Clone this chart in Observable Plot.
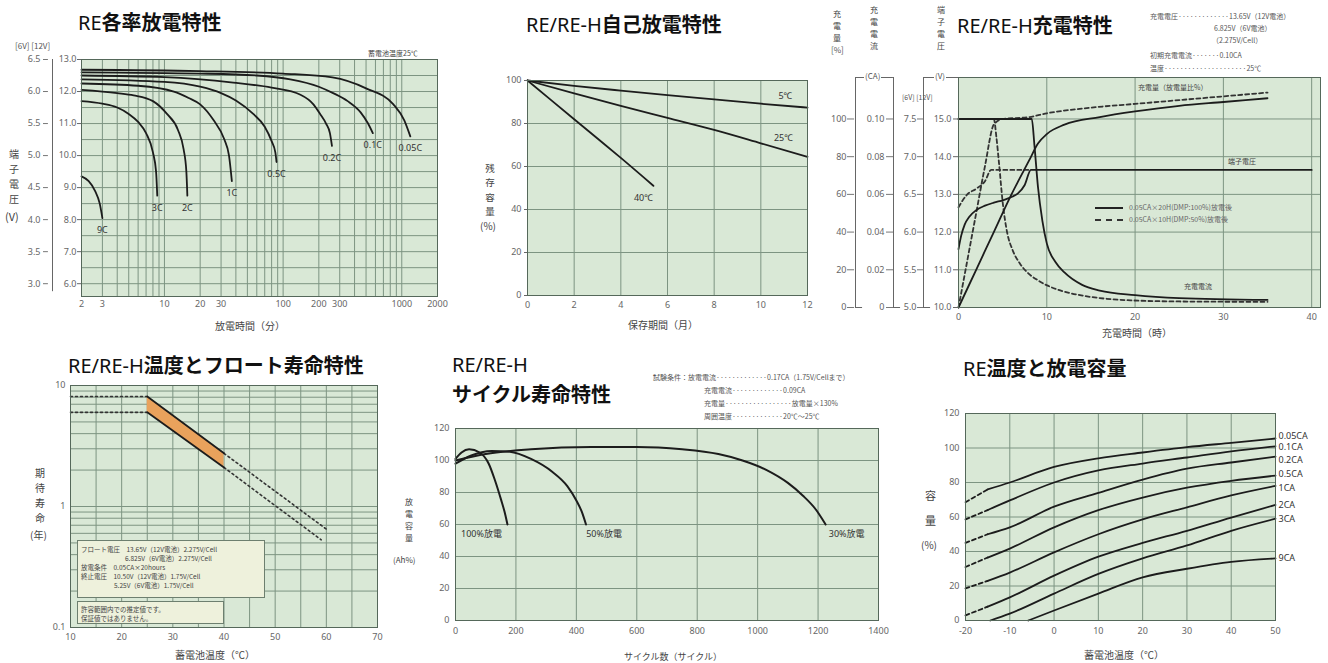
<!DOCTYPE html>
<html><head><meta charset="utf-8">
<script src="https://cdn.jsdelivr.net/npm/d3@7"></script>
<script src="https://cdn.jsdelivr.net/npm/@observablehq/plot@0.6"></script>
<style>
body{margin:0;background:#fff;width:1328px;height:663px;position:relative;overflow:hidden;font-family:"Noto Sans CJK JP","Noto Sans",sans-serif;}
.p{position:absolute;}
.p svg{max-width:none;display:block;}
.t{position:absolute;font-size:20px;color:#111;white-space:nowrap;line-height:1;font-family:"Noto Sans","Noto Sans CJK JP",sans-serif;}
.t b{font-weight:700;font-family:"Noto Sans CJK JP",sans-serif;}
.s{position:absolute;color:#555;white-space:nowrap;line-height:1;}
.vs{position:absolute;color:#444;text-align:center;line-height:1.5;}
.box{position:absolute;background:#eef1dc;border:1px solid #6d7f6f;box-sizing:border-box;}
</style>
</head><body>
<script>
// ===== Panel 1: RE各率放電特性 =====
const p1Rates = ["0.05C","0.1C","0.2C","0.5C","1C","2C","3C","9C"];
const p1Minutes = [
  [2, 20, 100, 260, 500, 850, 1050, 1180],
  [2, 20, 60, 115, 200, 264, 350, 450, 520, 570],
  [2, 10, 38, 80, 140, 180, 205, 230, 248, 258],
  [2, 10, 20, 30, 40, 56, 70, 80, 86, 88],
  [2, 6, 12, 16, 20, 26, 32, 35, 37],
  [2, 4, 5.5, 8, 10.5, 13, 14.5, 15.3, 15.6],
  [2, 3, 4, 5, 6, 7, 8, 8.5, 8.7],
  [2, 2.3, 2.6, 2.85, 3.0]
];
const p1Volts = [
  [12.68, 12.64, 12.56, 12.44, 12.1, 11.6, 11.1, 10.6],
  [12.6, 12.56, 12.5, 12.38, 12.15, 11.95, 11.7, 11.35, 11.0, 10.7],
  [12.5, 12.45, 12.28, 12.12, 11.9, 11.6, 11.3, 11.0, 10.7, 10.3],
  [12.38, 12.3, 12.15, 11.95, 11.72, 11.3, 10.9, 10.45, 10.1, 9.8],
  [12.25, 12.18, 12.0, 11.8, 11.6, 11.1, 10.5, 10.0, 9.2],
  [12.05, 11.95, 11.88, 11.7, 11.3, 10.8, 10.2, 9.5, 8.75],
  [11.7, 11.62, 11.5, 11.3, 11.05, 10.7, 10.1, 9.5, 8.75],
  [9.35, 9.2, 8.9, 8.5, 8.05]
];
const p1TicksX = [2, 3, 4, 5, 7, 10, 20, 30, 60, 100, 200, 300, 600, 1000, 2000];
const p1GridX = [3,4,5,6,7,8,9,10,20,30,40,50,60,70,80,90,100,200,300,400,500,600,700,800,900,1000];
const p1Ticks12 = [13, 12, 11, 10, 9, 8, 7, 6];
const p1Ticks6 = [6.5, 6.0, 5.5, 5.0, 4.5, 4.0, 3.5, 3.0];
const p1GridY = [6, 6.5, 7, 7.5, 8, 8.5, 9, 9.5, 10, 10.5, 11, 11.5, 12, 12.5];

// ===== Panel 2: 自己放電特性 =====
const p2Months = [0, 2, 4, 6, 8, 10, 12];
const p2Rem5 = [100, 97.5, 95.3, 93.2, 91.2, 89.2, 87.4];
const p2Rem25 = [100, 94, 88.2, 82.6, 77, 70.8, 64.5];
const p2Months40 = [0, 1, 2, 3, 4, 5.4];
const p2Rem40 = [100, 91, 82, 73, 64, 51];
const p2TicksX = [0, 2, 4, 6, 8, 10, 12];
const p2TicksY = [0, 20, 40, 60, 80, 100];

// ===== Panel 3: 充電特性 =====
const p3VoltT100 = [0, 0.3, 0.7, 1.2, 2, 3, 4, 5.1, 6, 6.7, 7.5, 8.2, 40];
const p3Volt100 = [11.55, 11.9, 12.2, 12.4, 12.58, 12.7, 12.78, 12.85, 12.93, 13.02, 13.25, 13.65, 13.65];
const p3CurT100 = [0, 8.3, 8.6, 9, 9.5, 10, 11, 12, 14, 16, 20, 25, 35];
const p3Cur100 = [0.1, 0.1, 0.086, 0.064, 0.046, 0.034, 0.024, 0.0186, 0.012, 0.009, 0.0066, 0.005, 0.004];
const p3ChgT100 = [0, 2, 4, 6, 8, 9, 10, 12, 16, 20, 25, 30, 35];
const p3Chg100 = [0, 20, 40, 60, 78, 87, 92, 97, 101, 104, 107, 109, 111];
const p3VoltT50 = [0, 0.5, 1, 2, 3, 3.7, 8.2];
const p3Volt50 = [12.66, 12.85, 13.0, 13.15, 13.35, 13.65, 13.65];
const p3CurT50 = [0, 4.0, 4.3, 4.6, 5.0, 5.5, 6.1, 7, 7.8, 9, 10.1, 12, 13.9, 16, 19.5, 25, 35];
const p3Cur50 = [0.1, 0.1, 0.09, 0.076, 0.056, 0.04, 0.0308, 0.023, 0.0186, 0.0144, 0.0116, 0.0084, 0.0064, 0.005, 0.0038, 0.0032, 0.003];
const p3ChgT50 = [0, 1, 2, 3, 4, 5, 8, 10, 15, 20, 25, 30, 35];
const p3Chg50 = [0, 25, 50, 75, 97, 100, 101, 103, 106, 108, 110, 112, 114];
const p3TicksX = [0, 10, 20, 30, 40];
const p3Ticks12 = [10, 11, 12, 13, 14, 15];
const p3Ticks6 = [5.0, 5.5, 6.0, 6.5, 7.0, 7.5];
const p3TicksCA = [0, 0.02, 0.04, 0.06, 0.08, 0.10];
const p3TicksPct = [0, 20, 40, 60, 80, 100];

// ===== Panel 4: 温度とフロート寿命特性 =====
const p4TempUpper = [10, 25, 40, 60];
const p4LifeUpper = [8.1, 8.1, 2.75, 0.65];
const p4TempLower = [10, 25, 40, 59];
const p4LifeLower = [6.0, 6.0, 2.1, 0.53];
const p4TicksX = [10, 20, 30, 40, 50, 60, 70];
const p4TicksY = [0.1, 1, 10];
const p4GridX = [15, 20, 25, 30, 35, 40, 45, 50, 55, 60, 65];
const p4GridY = [0.2,0.3,0.4,0.5,0.6,0.7,0.8,0.9,1,2,3,4,5,6,7,8,9];

// ===== Panel 5: サイクル寿命特性 =====
const p5Labels = ["100%放電", "50%放電", "30%放電"];
const p5Cycles = [
  [0, 20, 45, 80, 110, 130, 150, 165, 172],
  [0, 50, 120, 180, 250, 320, 370, 400, 420, 432],
  [0, 100, 250, 450, 600, 750, 870, 950, 1030, 1100, 1150, 1190, 1225]
];
const p5Capacity = [
  [101, 105, 107, 105, 98, 88, 76, 66, 60],
  [98, 103, 106, 105.5, 101, 93, 84, 75, 67, 60],
  [100, 104, 107, 108.5, 108.5, 107, 104, 100, 94, 86, 78, 70, 60]
];
const p5TicksX = [0, 200, 400, 600, 800, 1000, 1200, 1400];
const p5TicksY = [0, 20, 40, 60, 80, 100, 120];

// ===== Panel 6: 温度と放電容量 =====
const p6Rates = ["0.05CA","0.1CA","0.2CA","0.5CA","1CA","2CA","3CA","9CA"];
const p6Temps = [
  [-20, -15, -10, 0, 10, 20, 30, 40, 50],
  [-20, -15, -10, 0, 10, 20, 30, 40, 50],
  [-20, -15, -10, 0, 10, 20, 30, 40, 50],
  [-20, -15, -10, 0, 10, 20, 30, 40, 50],
  [-20, -15, -10, 0, 10, 20, 30, 40, 50],
  [-20, -15, -10, 0, 10, 20, 30, 40, 50],
  [-14.4, -10, 0, 10, 20, 30, 40, 50],
  [-5.8, 0, 10, 20, 30, 40, 50]
];
const p6Capacity = [
  [68.6, 76, 80, 89, 94, 97.4, 100.5, 103, 105.5],
  [58.6, 64, 69.6, 80, 87, 91, 94.5, 98, 101],
  [45, 50, 54, 66, 74, 81.7, 88, 91.6, 95],
  [31, 36.5, 41.7, 54, 64, 71.3, 77, 81, 84],
  [18.6, 23, 27.8, 39.5, 50, 58.6, 65.6, 72.5, 78],
  [3, 8, 13.4, 26, 37, 45, 52, 59.7, 67],
  [0, 4, 15.6, 27, 36, 43.5, 52, 59],
  [0, 5.8, 15.6, 25, 30, 34, 36]
];
const p6TicksX = [-20, -10, 0, 10, 20, 30, 40, 50];
const p6TicksY = [0, 20, 40, 60, 80, 100, 120];

// ===== common style =====
const BG = "#d9e8d6", GRID = "#7d9482", FRAME = "#55685a", INK = "#1c1c1c", TICKC = "#666";
const FONT = "'Noto Sans','Noto Sans CJK JP',sans-serif";
const styleStr = `font-family:${FONT};font-size:9px;color:${TICKC};background:transparent;overflow:visible;`;

function place(svg, left, top, w) {
  const d = document.createElement("div");
  d.className = "p"; d.style.left = left + "px"; d.style.top = top + "px"; d.style.width = w + "px";
  d.appendChild(svg); document.body.appendChild(d);
}
function html(cls, left, top, content, extra) {
  const d = document.createElement("div");
  d.className = cls; d.style.left = left + "px"; d.style.top = top + "px";
  d.innerHTML = content; if (extra) d.style.cssText += extra;
  document.body.appendChild(d); return d;
}
function vstack(left, top, text, size, extra) {
  return html("vs", left, top, [...text].join("<br>"), `font-size:${size}px;width:${Math.ceil(size) + 2}px;` + (extra || ""));
}
function zipSeries(names, xs, ys, kx, ky) {
  const out = [];
  names.forEach((n, i) => xs[i].forEach((x, j) => out.push({name: n, [kx]: x, [ky]: ys[i][j]})));
  return out;
}
function lastOf(table) {
  const m = new Map(); table.forEach(d => m.set(d.name, d)); return [...m.values()];
}
const labelFor = (ends, name, opts) => Plot.text(ends.filter(d => d.name === name), opts);
const plain = d => String(d);

// ---------- Panel 1 plot
const p1Data = zipSeries(p1Rates, p1Minutes, p1Volts, "m", "v");
const p1Ends = lastOf(p1Data);
place(Plot.plot({
  width: 450, height: 300, marginLeft: 81, marginRight: 13, marginTop: 19, marginBottom: 44,
  style: styleStr,
  x: {type: "log", domain: [2, 2000]},
  y: {domain: [5.6, 13]},
  marks: [
    Plot.frame({fill: BG, stroke: null}),
    Plot.ruleX(p1GridX, {stroke: GRID, strokeWidth: 1}),
    Plot.ruleY(p1GridY, {stroke: GRID, strokeWidth: 1}),
    Plot.line(p1Data, {x: "m", y: "v", z: "name", stroke: INK, strokeWidth: 1.8, curve: "monotone-x"}),
    Plot.text(p1Ends, {x: "m", y: "v", text: "name", dy: 12, fill: "#333", fontSize: 9}),
    Plot.frame({stroke: FRAME}),
    Plot.axisX({ticks: p1TicksX, tickFormat: plain, tickSize: 0, tickPadding: 4, label: null}),
    Plot.axisY({ticks: p1Ticks12, tickFormat: d => d.toFixed(1), tickSize: 4, tickPadding: 1, label: null}),
    Plot.text(p1Ticks6, {y: d => d * 2, frameAnchor: "left", dx: -41, textAnchor: "end", text: d => d.toFixed(1), fill: TICKC}),
    Plot.ruleY(p1Ticks6, {y: d => d * 2, x1: 2, x2: 2.2, dx: -38, stroke: "#777"}),
    Plot.ruleX([2], {y1: 5.75, y2: 13, dx: -29, stroke: "#666"})
  ]
}), 0, 40, 450);
html("t", 78, 12, "RE<b>各率放電特性</b>");
html("s", 15, 42, "[6V]&nbsp;[12V]", "font-size:8px;");
html("s", 368, 50, "蓄電池温度25℃", "font-size:7px;color:#444;");
vstack(8, 146, "端子電圧", 10);
html("s", 5, 211, "(V)", "font-size:11px;color:#444;");
html("s", 250, 321, "放電時間（分）", "font-size:10px;transform:translateX(-50%);color:#444;");

// ---------- Panel 2 plot
const p2Data = [
  ...p2Months.map((m, i) => ({name: "5℃", m, r: p2Rem5[i]})),
  ...p2Months.map((m, i) => ({name: "25℃", m, r: p2Rem25[i]})),
  ...p2Months40.map((m, i) => ({name: "40℃", m, r: p2Rem40[i]}))
];
const p2Ends = lastOf(p2Data);
const p2Lab = {x: "m", y: "r", text: "name", fill: "#333", fontSize: 9};
place(Plot.plot({
  width: 370, height: 290, marginLeft: 67, marginRight: 23, marginTop: 40, marginBottom: 35,
  style: styleStr,
  x: {domain: [0, 12]}, y: {domain: [0, 100]},
  marks: [
    Plot.frame({fill: BG, stroke: null}),
    Plot.ruleX(p2TicksX.slice(1, -1), {stroke: GRID}),
    Plot.ruleY(p2TicksY.slice(1, -1), {stroke: GRID}),
    Plot.line(p2Data, {x: "m", y: "r", z: "name", stroke: INK, strokeWidth: 1.8, curve: "monotone-x"}),
    labelFor(p2Ends, "5℃", {...p2Lab, dx: -22, dy: -11}),
    labelFor(p2Ends, "25℃", {...p2Lab, dx: -24, dy: -19}),
    labelFor(p2Ends, "40℃", {...p2Lab, dx: -10, dy: 12}),
    Plot.frame({stroke: FRAME}),
    Plot.axisX({ticks: p2TicksX, tickFormat: plain, tickSize: 0, tickPadding: 6, label: null}),
    Plot.axisY({ticks: p2TicksY, tickFormat: plain, tickSize: 3, tickPadding: 3, label: null})
  ]
}), 460, 40, 370);
html("t", 526, 14, "RE/RE-H<b>自己放電特性</b>");
vstack(484, 161, "残存容量", 9.5);
html("s", 480, 221, "(%)", "font-size:10px;color:#444;");
html("s", 663, 320, "保存期間（月）", "font-size:10px;transform:translateX(-50%);color:#444;");

// ---------- Panel 3 plot
const caToV = ca => 10 + ca * 50, pctToV = p => 10 + p / 20;
const p3Solid = [
  ...p3VoltT100.map((t, i) => ({name: "v100", t, y: p3Volt100[i]})),
  ...p3CurT100.map((t, i) => ({name: "c100", t, y: caToV(p3Cur100[i])})),
  ...p3ChgT100.map((t, i) => ({name: "q100", t, y: pctToV(p3Chg100[i])}))
];
const p3Dash = [
  ...p3VoltT50.map((t, i) => ({name: "v50", t, y: p3Volt50[i]})),
  ...p3CurT50.map((t, i) => ({name: "c50", t, y: caToV(p3Cur50[i])})),
  ...p3ChgT50.map((t, i) => ({name: "q50", t, y: pctToV(p3Chg50[i])}))
];
const brk = {stroke: "#666"};
place(Plot.plot({
  width: 498, height: 340, marginLeft: 128, marginRight: 8, marginTop: 77, marginBottom: 33,
  style: styleStr,
  x: {domain: [0, 41]}, y: {domain: [10, 16.1]},
  marks: [
    Plot.frame({fill: BG, stroke: null}),
    Plot.ruleX(p3TicksX.slice(1), {stroke: GRID}),
    Plot.ruleY(p3Ticks12.slice(1), {stroke: GRID}),
    Plot.line(p3Dash, {x: "t", y: "y", z: "name", stroke: "#333", strokeWidth: 1.8, strokeDasharray: "4,3", curve: "monotone-x"}),
    Plot.line(p3Solid, {x: "t", y: "y", z: "name", stroke: INK, strokeWidth: 1.8, curve: "monotone-x"}),
    Plot.frame({stroke: FRAME}),
    Plot.axisX({ticks: p3TicksX, tickFormat: plain, tickSize: 0, tickPadding: 6, label: null}),
    Plot.axisY({ticks: p3Ticks12, tickFormat: d => d.toFixed(1), tickSize: 5, tickPadding: 2, label: null}),
    // 6V scale
    Plot.text(p3Ticks6, {y: d => d * 2, frameAnchor: "left", dx: -42, textAnchor: "end", text: d => d.toFixed(1), fill: TICKC}),
    Plot.ruleY(p3Ticks6, {y: d => d * 2, x1: 0, x2: 0.7, dx: -41, stroke: "#777"}),
    // CA scale
    Plot.text(p3TicksCA, {y: caToV, frameAnchor: "left", dx: -74, textAnchor: "end", text: d => d === 0 ? "0" : d.toFixed(2), fill: TICKC}),
    Plot.ruleY(p3TicksCA, {y: caToV, x1: 0, x2: 0.8, dx: -72, stroke: "#777"}),
    // % scale
    Plot.text(p3TicksPct, {y: pctToV, frameAnchor: "left", dx: -112, textAnchor: "end", text: plain, fill: TICKC}),
    Plot.ruleY(p3TicksPct, {y: pctToV, x1: 0, x2: 0.8, dx: -111, stroke: "#777"}),
    // axis brackets
    Plot.ruleX([0], {y1: 10, y2: 16.1, dx: -103, ...brk}),
    Plot.ruleX([0], {y1: 10, y2: 16.1, dx: -65, ...brk}),
    Plot.ruleX([0], {y1: 10, y2: 16.1, dx: -35, ...brk}),
    Plot.ruleY([10], {x1: 0, x2: 0.8, dx: -103, ...brk}),
    Plot.ruleY([10], {x1: 0, x2: 0.8, dx: -65, ...brk}),
    Plot.ruleY([10], {x1: 0, x2: 0.8, dx: -35, ...brk}),
    Plot.ruleY([16.1], {x1: 0, x2: 4.3, dx: -103, ...brk}),
    Plot.ruleY([16.1], {x1: 0, x2: 4.0, dx: -35, ...brk})
  ]
}), 830, 0, 498);
html("t", 957, 15, "RE/RE-H<b>充電特性</b>");
vstack(832, 8, "充電量", 8);
html("s", 831, 46, "[%]", "font-size:8px;");
vstack(869, 4, "充電電流", 8);
html("s", 864, 72, "(CA)", "font-size:8px;background:#fff;padding:0 1px;");
vstack(936, 4, "端子電圧", 8);
html("s", 934, 72, "(V)", "font-size:8px;background:#fff;padding:0 1px;");
html("s", 902, 94, "[6V]&nbsp;[12V]", "font-size:7px;");
html("s", 1150, 10, "充電電圧·············13.65V（12V電池）<br><span style='padding-left:64px'>6.825V（6V電池）</span><br><span style='padding-left:62px'>（2.275V/Cell）</span>", "font-size:7px;line-height:12px;");
html("s", 1150, 49, "初期充電電流·······0.10CA<br>温度·····················25℃", "font-size:7px;line-height:13px;");
html("s", 1138, 84, "充電量（放電量比%）", "font-size:7px;color:#444;");
html("s", 1228, 158, "端子電圧", "font-size:7px;color:#444;");
html("s", 1184, 283, "充電電流", "font-size:7px;color:#444;");
html("s", 1095, 207, "", "width:28px;border-top:2px solid #222;");
html("s", 1095, 219, "", "width:28px;border-top:2px dashed #333;");
html("s", 1129, 204, "0.05CA×20H(DMP:100%)放電後", "font-size:7px;color:#666;");
html("s", 1129, 216, "0.05CA×10H(DMP:50%)放電後", "font-size:7px;color:#666;");
html("s", 1137, 328, "充電時間（時）", "font-size:10px;transform:translateX(-50%);color:#444;");

// ---------- Panel 4 plot
const p4Up = p4TempUpper.map((t, i) => ({t, y: p4LifeUpper[i]}));
const p4Lo = p4TempLower.map((t, i) => ({t, y: p4LifeLower[i]}));
const p4Band = [1, 2].map(i => ({t: p4TempUpper[i], hi: p4LifeUpper[i], lo: p4LifeLower[i]}));
const dot = {stroke: "#333", strokeWidth: 1.6, strokeDasharray: "2,3"};
place(Plot.plot({
  width: 400, height: 288, marginLeft: 70, marginRight: 23, marginTop: 10, marginBottom: 36,
  style: styleStr,
  x: {domain: [10, 70]}, y: {type: "log", domain: [0.1, 10]},
  marks: [
    Plot.frame({fill: BG, stroke: null}),
    Plot.ruleX(p4GridX, {stroke: GRID}),
    Plot.ruleY(p4GridY, {stroke: GRID}),
    Plot.areaY(p4Band, {x: "t", y1: "lo", y2: "hi", fill: "#e9a25c"}),
    Plot.line(p4Up.slice(0, 2), {x: "t", y: "y", ...dot}),
    Plot.line(p4Lo.slice(0, 2), {x: "t", y: "y", ...dot}),
    Plot.line(p4Up.slice(2, 4), {x: "t", y: "y", ...dot}),
    Plot.line(p4Lo.slice(2, 4), {x: "t", y: "y", ...dot}),
    Plot.line(p4Up.slice(1, 3), {x: "t", y: "y", stroke: INK, strokeWidth: 1.8}),
    Plot.line(p4Lo.slice(1, 3), {x: "t", y: "y", stroke: INK, strokeWidth: 1.8}),
    Plot.frame({stroke: FRAME}),
    Plot.axisX({ticks: p4TicksX, tickFormat: plain, tickSize: 0, tickPadding: 6, label: null}),
    Plot.axisY({ticks: p4TicksY, tickFormat: plain, tickSize: 0, tickPadding: 5, label: null})
  ]
}), 0, 375, 400);
html("t", 68, 355, "RE/RE-H<b>温度とフロート寿命特性</b>");
vstack(34, 465, "期待寿命", 10);
html("s", 30, 530, "(年)", "font-size:10px;color:#444;");
html("box", 77, 540, "<div class='s' style='left:3px;top:4px;font-size:6.5px;line-height:9px;color:#444'>フロート電圧　13.65V（12V電池）2.275V/Cell<br><span style='padding-left:44px'>6.825V（6V電池）2.275V/Cell</span><br>放電条件　0.05CA×20hours<br>終止電圧　10.50V（12V電池）1.75V/Cell<br><span style='padding-left:33px'>5.25V（6V電池）1.75V/Cell</span></div>", "width:188px;height:58px;");
html("box", 77, 601, "<div class='s' style='left:3px;top:3px;font-size:6.5px;line-height:9px;color:#444'>許容範囲内での推定値です。<br>保証値ではありません。</div>", "width:147px;height:23px;");
html("s", 215, 650, "蓄電池温度（℃）", "font-size:10px;transform:translateX(-50%);color:#444;");

// ---------- Panel 5 plot
const p5Data = zipSeries(p5Labels, p5Cycles, p5Capacity, "c", "cap");
const p5Ends = lastOf(p5Data);
const p5Lab = {x: "c", y: "cap", text: "name", dy: 10, fill: "#333", fontSize: 9};
place(Plot.plot({
  width: 510, height: 288, marginLeft: 65, marginRight: 22, marginTop: 53, marginBottom: 43,
  style: styleStr,
  x: {domain: [0, 1400]}, y: {domain: [0, 120]},
  marks: [
    Plot.frame({fill: BG, stroke: null}),
    Plot.ruleX(p5TicksX.slice(1, -1), {stroke: GRID}),
    Plot.ruleY(p5TicksY.slice(1, -1), {stroke: GRID}),
    Plot.line(p5Data, {x: "c", y: "cap", z: "name", stroke: INK, strokeWidth: 2, curve: "monotone-x"}),
    labelFor(p5Ends, "100%放電", {...p5Lab, dx: -26}),
    labelFor(p5Ends, "50%放電", {...p5Lab, dx: 18}),
    labelFor(p5Ends, "30%放電", {...p5Lab, dx: 21}),
    Plot.frame({stroke: FRAME}),
    Plot.axisX({ticks: p5TicksX, tickFormat: plain, tickSize: 0, tickPadding: 7, label: null}),
    Plot.axisY({ticks: p5TicksY, tickFormat: plain, tickSize: 0, tickPadding: 6, label: null})
  ]
}), 390, 375, 510);
html("t", 452, 350, "RE/RE-H<br><b>サイクル寿命特性</b>", "line-height:29px;");
html("s", 653, 374, "試験条件：放電電流·············0.17CA（1.75V/Cellまで）", "font-size:7px;");
html("s", 704, 387, "充電電流·············0.09CA", "font-size:7px;");
html("s", 704, 400, "充電量·················放電量×130%", "font-size:7px;");
html("s", 704, 413, "周囲温度·············20℃～25℃", "font-size:7px;");
vstack(404, 496, "放電容量", 8);
html("s", 393, 556, "(Ah%)", "font-size:8px;color:#444;");
html("s", 673, 652, "サイクル数（サイクル）", "font-size:9px;transform:translateX(-50%);color:#444;");

// ---------- Panel 6 plot
const p6Data = zipSeries(p6Rates, p6Temps, p6Capacity, "t", "c");
const p6Dashed = p6Data.filter(d => d.t <= -15);
const p6Solid = p6Data.filter(d => d.t >= -15);
const p6Ends = lastOf(p6Data);
const p6Lab = {x: "t", y: "c", text: "name", dx: 3, textAnchor: "start", fill: "#333", fontSize: 9};
const p6Dy = [-2, 1, 3, -1, 2, 0, 0, 0];
place(Plot.plot({
  width: 428, height: 288, marginLeft: 65, marginRight: 53, marginTop: 38, marginBottom: 43,
  style: styleStr,
  x: {domain: [-20, 50]}, y: {domain: [0, 120]},
  marks: [
    Plot.frame({fill: BG, stroke: null}),
    Plot.ruleX(p6TicksX.slice(1, -1), {stroke: GRID}),
    Plot.ruleY(p6TicksY.slice(1, -1), {stroke: GRID}),
    Plot.line(p6Dashed, {x: "t", y: "c", z: "name", stroke: INK, strokeWidth: 1.8, strokeDasharray: "4,3"}),
    Plot.line(p6Solid, {x: "t", y: "c", z: "name", stroke: INK, strokeWidth: 1.8, curve: "monotone-x"}),
    ...p6Rates.map((r, i) => labelFor(p6Ends, r, {...p6Lab, dy: p6Dy[i]})),
    Plot.frame({stroke: FRAME}),
    Plot.axisX({ticks: p6TicksX, tickFormat: plain, tickSize: 0, tickPadding: 7, label: null}),
    Plot.axisY({ticks: p6TicksY, tickFormat: plain, tickSize: 0, tickPadding: 6, label: null})
  ]
}), 900, 375, 428);
html("t", 963, 358, "RE<b>温度と放電容量</b>");
html("s", 925, 490, "容", "font-size:11px;color:#444;");
html("s", 925, 515, "量", "font-size:11px;color:#444;");
html("s", 921, 540, "(%)", "font-size:10px;color:#444;");
html("s", 1124, 650, "蓄電池温度（℃）", "font-size:10px;transform:translateX(-50%);color:#444;");
</script>
</body></html>
